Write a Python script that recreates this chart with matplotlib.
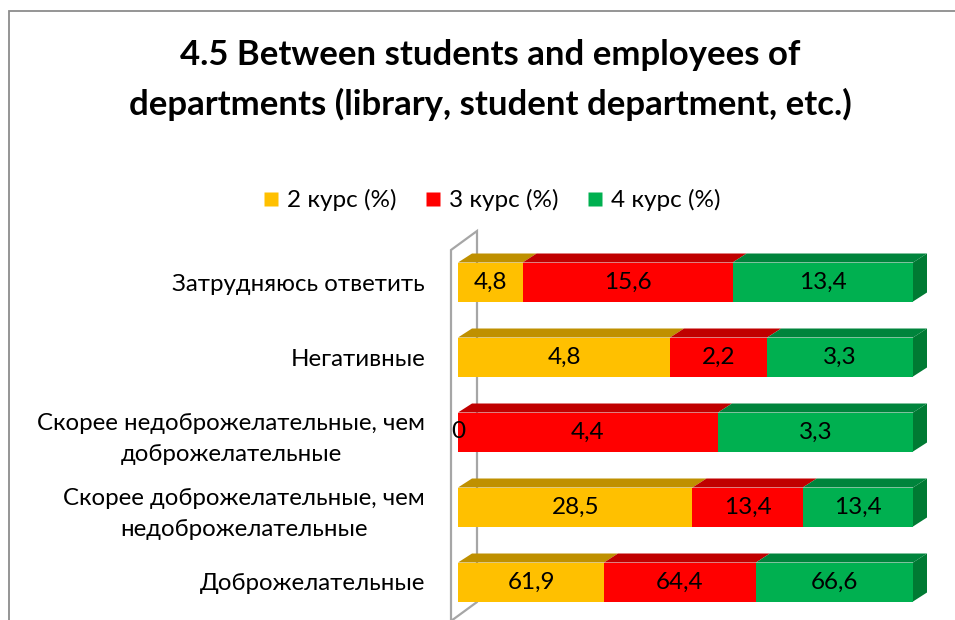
import matplotlib
matplotlib.use("Agg")
import matplotlib.pyplot as plt
from matplotlib.patches import Polygon
from matplotlib.lines import Line2D
import numpy as np

plt.rcParams['font.family'] = ['Lato', 'DejaVu Sans']

# ---- data ----
categories = ["Доброжелательные",
              "Скорее доброжелательные, чем\nнедоброжелательные",
              "Скорее недоброжелательные, чем\nдоброжелательные",
              "Негативные",
              "Затрудняюсь ответить"]
series_names = ["2 курс (%)", "3 курс (%)", "4 курс (%)"]
kurs2 = [61.9, 28.5, 0.0, 4.8, 4.8]
kurs3 = [64.4, 13.4, 4.4, 2.2, 15.6]
kurs4 = [66.6, 13.4, 3.3, 3.3, 13.4]
title = "4.5 Between students and employees of\ndepartments (library, student department, etc.)"

front_cols = ["#FFC000", "#FF0000", "#00B050"]
top_cols = ["#BF9000", "#C00000", "#00843C"]
side_col = "#007A33"

W, H = 955, 620
fig = plt.figure(figsize=(W / 100, H / 100), dpi=100)

# chart border
fig.add_artist(plt.Rectangle((8.5 / W, -0.1), 1.2, (H - 10.5) / H + 0.1,
                             transform=fig.transFigure, fill=False,
                             edgecolor="#8C8C8C", lw=1.3))

ax_left, ax_right, ax_top = 440, 940, 225
ax = fig.add_axes([ax_left / W, 0, (ax_right - ax_left) / W, (H - ax_top) / H])
ppx = 100 / 455.0          # data units per pixel horizontally
ppy = 1 / 75.0             # data units per pixel vertically
x0px = 458
ax.set_xlim((ax_left - x0px) * ppx, 100 + (ax_right - 913) * ppx)
ax.set_ylim(-(620 - 582) * ppy, (582 - ax_top) * ppy)
for s in ax.spines.values():
    s.set_visible(False)
ax.set_xticks([])

data = np.array([kurs2, kurs3, kurs4])
totals = data.sum(axis=0)
pct = data / totals * 100

hh = 19.5 * ppy
dx, dy = 14 * ppx, 9 * ppy

# wall
wc = "#A6A6A6"
fx, bx = (451 - x0px) * ppx, (477 - x0px) * ppx
ytop_f = (582 - 250) * ppy
ytop_b = (582 - 231) * ppy
ybot_b = (582 - 602) * ppy
ybot_f = (582 - 621) * ppy
ax.plot([fx, fx, bx, bx, fx], [ybot_f, ytop_f, ytop_b, ybot_b, ybot_f],
        color=wc, lw=1.6, zorder=1, solid_joinstyle="miter", clip_on=False)

ypos = np.arange(len(categories))
left = np.zeros(len(categories))
for k in range(3):
    ax.barh(ypos, pct[k], left=left, height=2 * hh, color=front_cols[k],
            edgecolor="none", zorder=3)
    for i, y in enumerate(ypos):
        a, b = left[i], left[i] + pct[k][i]
        if pct[k][i] > 0:
            ax.add_patch(Polygon([(a, y + hh), (b, y + hh), (b + dx, y + hh + dy),
                                  (a + dx, y + hh + dy)], closed=True,
                                 facecolor=top_cols[k], edgecolor="none", zorder=2))
        val = data[k][i]
        lab = ("%g" % val).replace(".", ",")
        ax.text((a + b) / 2, y, lab, ha="center", va="center", fontsize=17.5,
                color="black", zorder=5)
    left = left + pct[k]

for i, y in enumerate(ypos):
    ax.add_patch(Polygon([(100, y - hh), (100, y + hh), (100 + dx, y + hh + dy),
                          (100 + dx, y - hh + dy)], closed=True,
                         facecolor=side_col, edgecolor="none", zorder=2))

ax.set_yticks(ypos)
ax.set_yticklabels(categories, fontsize=17.3, linespacing=1.6)
ax.tick_params(axis="y", length=0, pad=(ax_left - 425 + (x0px - ax_left)) * 0.72 - 13)
for t in ax.get_yticklabels():
    t.set_multialignment("center")

fig.text(490 / W, 1 - 80 / H, title, ha="center", va="center", fontsize=25,
         fontweight="bold", linespacing=1.6)

handles = [Line2D([], [], marker="s", linestyle="none", markersize=10.5,
                  markerfacecolor=c, markeredgecolor="none") for c in front_cols]
fig.legend(handles, series_names, ncol=3, loc="center", bbox_to_anchor=(492 / W, 1 - 200 / H),
           frameon=False, fontsize=17.5, handlelength=0.6, handletextpad=0.35,
           columnspacing=1.2)

fig.savefig("out.png", dpi=100)
